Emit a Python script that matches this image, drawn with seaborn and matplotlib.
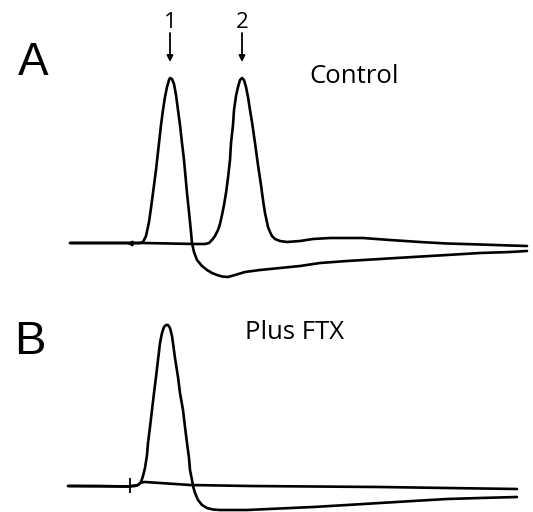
import numpy as np
import pandas as pd
import matplotlib
matplotlib.use("Agg")
import matplotlib.pyplot as plt
import seaborn as sns

# ---- recorded traces (time in ms from stimulus, potential in mV from rest) ----
# Panel A, control: response to stimulus 1 (spike followed by a slow undershoot)
a1_time = [-6.0, -3.0, -0.2, 1.0, 1.3, 1.6, 1.9, 2.1, 2.3, 2.6, 2.9, 3.1, 3.3, 3.5,
           3.7, 3.9, 4.0, 4.2, 4.4, 4.6, 4.8, 5.0, 5.2, 5.4, 5.7, 5.9, 6.1, 6.2,
           6.4, 6.7, 7.2, 7.7, 8.2, 8.7, 9.2, 9.8, 10.5, 11.5, 13.0, 15.0, 17.0,
           19.0, 21.7, 25.0, 28.3, 31.7, 35.0, 38.0, 39.7]
a1_mv = [0, 0, 0, 0, 0.5, 3.5, 10.5, 17.5, 25, 36.5, 50, 59, 66.5, 73,
         78, 81.5, 82.5, 82, 79.5, 74, 66.5, 59, 50, 41.5, 25, 15.5, 5.5, 0,
         -4.5, -8.5, -11.5, -13.5, -15, -16, -16.75, -17, -16, -14.5, -13.5, -12.5, -11.5,
         -10, -9, -8, -7, -6, -5, -4.5, -4]

# Panel A, control: response to stimulus 2
a2_time = [-6.0, -0.2, 1.3, 4.0, 6.5, 7.5, 7.9, 8.2, 8.5, 8.8, 9.0, 9.2, 9.4, 9.6,
           9.8, 10.0, 10.1, 10.3, 10.4, 10.6, 10.8, 11.0, 11.2, 11.4, 11.6, 11.8,
           12.0, 12.2, 12.5, 12.8, 13.1, 13.3, 13.5, 13.8, 14.0, 14.2, 14.5, 15.0,
           15.7, 17.0, 18.3, 20.0, 23.3, 26.0, 29.0, 31.7, 35.0, 38.0, 39.7]
a2_mv = [0, 0, 0, -0.25, -0.5, -0.5, 0, 1.5, 3.5, 6.5, 9.5, 14, 19, 25,
         32.5, 41.5, 50, 59, 66.5, 73.5, 78, 81.5, 82.5, 81.5, 78, 73,
         66.5, 60.5, 50, 39, 29, 21.5, 15, 8, 5.5, 3.5, 2, 1,
         0.5, 1, 2, 2.5, 2.5, 1.5, 0.5, -0.25, -0.75, -1.25, -1.5]

# Panel B, plus FTX: response to stimulus 1
b1_time = [-6.2, -3.0, -0.2, 0.5, 0.8, 1.1, 1.3, 1.5, 1.7, 1.8, 2.0, 2.2, 2.4, 2.6,
           2.8, 3.0, 3.2, 3.4, 3.6, 3.8, 4.0, 4.2, 4.3, 4.5, 4.8, 5.0, 5.3, 5.5,
           5.7, 5.9, 6.0, 6.2, 6.3, 6.5, 6.8, 7.2, 7.7, 8.3, 9.0, 10.0, 11.7,
           15.0, 18.3, 21.7, 25.0, 28.3, 31.7, 35.0, 38.7]
b1_mv = [0, 0, -0.25, 0, 0.5, 2, 5, 9, 15.5, 21.5, 29.5, 38, 46.5, 54.5,
         63, 71.5, 76.5, 79.5, 80.5, 80.5, 79, 75, 71.5, 64, 54.5, 46.5, 38, 29.5,
         21.5, 14, 8, 3, 0, -3.5, -7, -9.5, -11, -11.75, -12, -12, -12,
         -11.25, -10.5, -9.5, -8.5, -7.5, -6.5, -6, -5.5]

# Panel B, plus FTX: response to stimulus 2 (no spike)
b2_time = [-6.2, -0.2, 0.8, 1.1, 1.5, 3.0, 6.0, 12.0, 18.3, 25.0, 31.7, 38.7]
b2_mv = [0, -0.25, 0.5, 1.75, 2, 1.5, 0.5, 0, -0.25, -0.5, -1, -1.5]

stim_time = 0.0
panel_letters = ["A", "B"]
panel_titles = ["Control", "Plus FTX"]
arrow_labels = ["1", "2"]

# ---- figure ----
sns.set_theme(style="white")
plt.rcParams["font.family"] = ["Open Sans", "DejaVu Sans"]

W, H = 533, 512
fig = plt.figure(figsize=(W / 100, H / 100), dpi=100)
fig.patch.set_facecolor("white")

ax_a = fig.add_axes([0, 1 - 290 / H, 1, 290 / H])
ax_b = fig.add_axes([0, 0, 1, 222 / H])

trace_kw = dict(sort=False, estimator=None, color="black", linewidth=1.9,
                legend=False)
for ax, traces in (
    (ax_a, [(a1_time, a1_mv), (a2_time, a2_mv)]),
    (ax_b, [(b1_time, b1_mv), (b2_time, b2_mv)]),
):
    for t, v in traces:
        df = pd.DataFrame({"time_ms": t, "mV": v})
        sns.lineplot(data=df, x="time_ms", y="mV", ax=ax, **trace_kw)
    ax.set_xlim(-13.0, 40.3)
    ax.set_axis_off()

ax_a.set_ylim(-23.5, 121.5)
ax_b.set_ylim(-13.0, 98.0)

# stimulus markers
ax_a.plot([stim_time], [0], marker="<", ms=3.5, color="black")
ax_b.vlines(stim_time, -3.5, 4.0, color="black", linewidth=1.3)

# numbered arrows above the two control spikes
for label, (t, v) in zip(arrow_labels, [(a1_time, a1_mv), (a2_time, a2_mv)]):
    tp = t[int(np.argmax(v))]
    ax_a.annotate("", xy=(tp, 90.5), xytext=(tp, 105.0),
                  arrowprops=dict(arrowstyle="-|>", color="black", lw=1.3,
                                  mutation_scale=9, shrinkA=0, shrinkB=0))
    ax_a.text(tp, 107.5, label, ha="center", va="baseline", fontsize=16,
              color="black")

# panel letters and condition labels
fig.text(33.5 / W, 1 - 75 / H, panel_letters[0], ha="center", va="baseline",
         fontsize=33, family=["Liberation Sans"], color="black")
fig.text(30 / W, 1 - 354 / H, panel_letters[1], ha="center", va="baseline",
         fontsize=34, family=["Liberation Sans"], color="black")
fig.text(354 / W, 1 - 83 / H, panel_titles[0], ha="center", va="baseline",
         fontsize=18.5, color="black")
fig.text(294.5 / W, 1 - 339 / H, panel_titles[1], ha="center", va="baseline",
         fontsize=18.5, color="black")

fig.savefig("out.png", dpi=100, facecolor="white")
